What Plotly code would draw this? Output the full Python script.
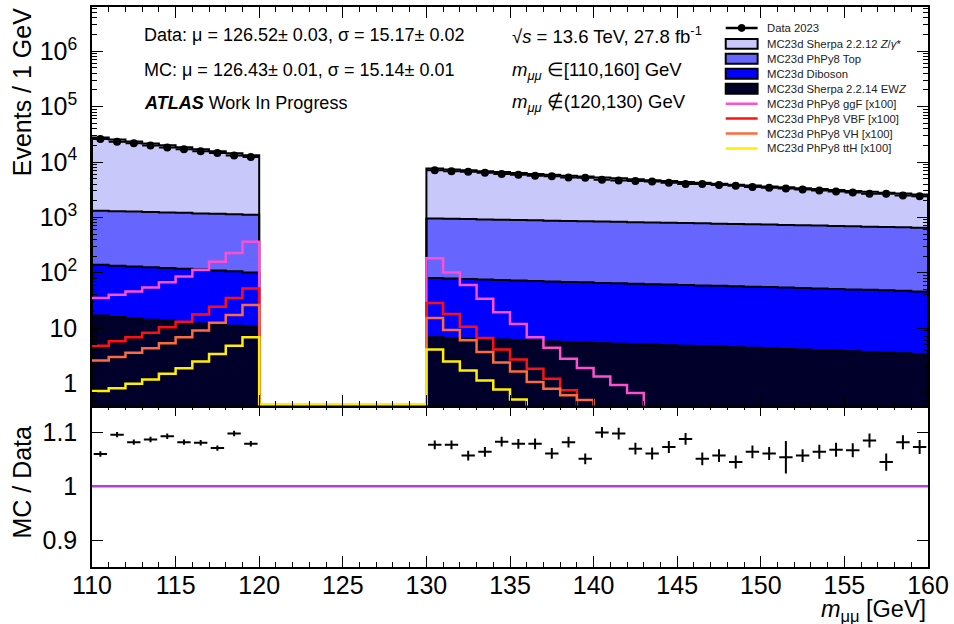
import numpy as np
import plotly.graph_objects as go

# ---------------- data ----------------
bins = list(range(110, 120)) + list(range(130, 160))   # lower bin edges, 1 GeV bins

data = [26080, 23260, 21720, 19930, 18270, 17010, 15700, 14600, 13130, 12320,
        7085, 6825, 6700, 6413, 6064, 5868, 5653, 5539, 5233, 5190,
        4777, 4611, 4559, 4429, 4219, 4008, 3998, 3830, 3732, 3531,
        3412, 3308, 3179, 3042, 2919, 2815, 2667, 2668, 2482, 2412]

ratio = [1.060, 1.096, 1.082, 1.087, 1.093, 1.082, 1.081, 1.071, 1.098, 1.079,
         1.077, 1.077, 1.057, 1.064, 1.083, 1.079, 1.079, 1.061, 1.082, 1.051,
         1.100, 1.098, 1.070, 1.061, 1.073, 1.088, 1.051, 1.057, 1.045, 1.064,
         1.061, 1.054, 1.057, 1.064, 1.068, 1.067, 1.085, 1.045, 1.082, 1.073]

ratio_err = [0.005] * 10 + [0.008, 0.008, 0.009, 0.009, 0.009, 0.009, 0.010, 0.010, 0.010, 0.010,
                            0.010, 0.011, 0.011, 0.011, 0.011, 0.011, 0.012, 0.012, 0.012, 0.012,
                            0.012, 0.030, 0.012, 0.013, 0.013, 0.013, 0.013, 0.016, 0.013, 0.013]

zgamma = [26340, 24200, 22230, 20410, 18740, 17200, 15790, 14480, 13280, 12180,
          6680, 6411, 6152, 5908, 5668, 5437, 5215, 5007, 4802, 4605,
          4415, 4233, 4058, 3889, 3727, 3571, 3422, 3278, 3140, 3007,
          2880, 2757, 2640, 2527, 2418, 2314, 2214, 2118, 2026, 1938]

top = [1171, 1156, 1140, 1124, 1108, 1092, 1066, 1050, 1034, 1009,
       870, 861, 853, 840, 831, 822, 814, 800, 792, 783,
       774, 766, 757, 748, 739, 730, 721, 712, 703, 694,
       685, 676, 667, 658, 649, 640, 631, 622, 613, 604]

diboson = [122.2, 118.1, 115.0, 111.8, 108.5, 105.2, 101.9, 98.5, 95.0, 90.4,
           73.2, 71.9, 70.5, 69.2, 67.8, 66.5, 65.1, 63.8, 62.4, 61.5,
           60.2, 59.3, 57.9, 57.0, 56.1, 55.2, 54.3, 53.4, 52.5, 51.6,
           50.7, 49.8, 48.9, 48.0, 47.1, 46.2, 45.3, 44.4, 43.5, 42.6]

ewz = [16.8, 15.9, 15.0, 14.2, 13.5, 12.8, 12.1, 11.5, 11.0, 10.6,
       6.8, 6.65, 6.5, 6.35, 6.2, 6.05, 5.9, 5.75, 5.6, 5.45,
       5.3, 5.2, 5.1, 5.0, 4.9, 4.8, 4.7, 4.6, 4.5, 4.4,
       4.3, 4.2, 4.1, 4.0, 3.9, 3.8, 3.7, 3.6, 3.5, 3.4]

# signal samples, already scaled x100
ggf = [35, 40, 46, 54, 67, 85, 112, 158, 226, 363,
       183, 101, 60, 34, 19.3, 11.9, 6.8, 4.4, 2.8, 1.91, 1.33, 0.94, 0.67] + [0] * 17
vbf = [4.8, 5.8, 6.8, 8.2, 10.3, 13, 17.5, 24.4, 35, 52,
       28.5, 18, 10.6, 6.6, 4.1, 2.7, 1.84, 1.21, 0.75] + [0] * 21
vh = [2.6, 3.0, 3.6, 4.3, 5.3, 6.8, 9.0, 12.5, 17.3, 26,
      15.2, 9.2, 6.0, 3.7, 2.4, 1.64, 1.06, 0.80, 0.61, 0.50] + [0] * 20
tth = [0.73, 0.82, 0.99, 1.18, 1.49, 1.89, 2.5, 3.4, 4.8, 6.8,
       4.1, 2.5, 1.72, 1.13, 0.78, 0.51] + [0] * 24

y_tick_vals = [1, 10, 100, 1000, 10000, 100000, 1000000]
y_tick_text = ["1", "10", "10<sup>2</sup>", "10<sup>3</sup>", "10<sup>4</sup>", "10<sup>5</sup>", "10<sup>6</sup>"]

# ---------------- styles ----------------
C_Z = "#c8c8fa"
C_TOP = "#6666ff"
C_DIB = "#0000ff"
C_EWZ = "#00002a"
C_GGF = "#ff4fcf"
C_VBF = "#ff1010"
C_VH = "#ff6a3a"
C_TTH = "#ffee00"
C_ONE = "#b040e0"
FONT = "Liberation Sans, Arial, Helvetica, sans-serif"

FLOOR = 1e-3                 # far below the axis -> clipped
GAP = 10 ** -0.375           # just above the bottom edge of the log axis

# ---------------- helpers ----------------
def runs_of(b):
    out, s = [], 0
    for i in range(1, len(b)):
        if b[i] != b[i - 1] + 1:
            out.append((s, i)); s = i
    out.append((s, len(b)))
    return out

RUNS = runs_of(bins)

def step(vals, i0, i1):
    xs = bins[i0:i1] + [bins[i1 - 1] + 1]
    ys = list(vals[i0:i1]) + [vals[i1 - 1]]
    return xs, ys

c1 = np.array(ewz, float)
c2 = c1 + np.array(diboson, float)
c3 = c2 + np.array(top, float)
c4 = c3 + np.array(zgamma, float)
levels = [(c1, C_EWZ), (c2, C_DIB), (c3, C_TOP), (c4, C_Z)]

fig = go.Figure()

# stacked fills
for (i0, i1) in RUNS:
    xs, _ = step(c1, i0, i1)
    fig.add_trace(go.Scatter(x=xs, y=[FLOOR] * len(xs), mode="lines", line=dict(width=0, shape="hv"),
                             xaxis="x2", yaxis="y2", hoverinfo="skip"))
    for arr, col in levels:
        xs, ys = step(arr.tolist(), i0, i1)
        fig.add_trace(go.Scatter(x=xs, y=ys, mode="lines", line=dict(width=0, shape="hv"),
                                 fill="tonexty", fillcolor=col, xaxis="x2", yaxis="y2", hoverinfo="skip"))

# black outlines of the stack
for (i0, i1) in RUNS:
    for arr, col in levels:
        xs, ys = step(arr.tolist(), i0, i1)
        xs = [xs[0]] + xs + [xs[-1]]
        ys = [FLOOR] + ys + [FLOOR]
        fig.add_trace(go.Scatter(x=xs, y=ys, mode="lines", line=dict(color="black", width=2, shape="hv"),
                                 xaxis="x2", yaxis="y2", hoverinfo="skip"))

# signal lines
def signal_path(vals):
    lookup = dict(zip(bins, vals))
    xs, ys = [], []
    for b in range(bins[0], bins[-1] + 1):
        v = lookup.get(b, None)
        if v is None:
            v = GAP
        elif v <= 0:
            v = FLOOR
        xs.append(b); ys.append(v)
    xs.append(bins[-1] + 1); ys.append(ys[-1])
    return xs, ys

for vals, col in [(ggf, C_GGF), (vbf, C_VBF), (vh, C_VH), (tth, C_TTH)]:
    xs, ys = signal_path(vals)
    fig.add_trace(go.Scatter(x=xs, y=ys, mode="lines", line=dict(color=col, width=2.5, shape="hv"),
                             xaxis="x2", yaxis="y2", hoverinfo="skip"))

centers = [b + 0.5 for b in bins]

# data
fig.add_trace(go.Scatter(x=centers, y=data, mode="markers",
                         marker=dict(color="black", size=8),
                         error_x=dict(type="constant", value=0.5, color="black", thickness=2, width=0),
                         xaxis="x2", yaxis="y2"))

# ratio
fig.add_trace(go.Scatter(x=centers, y=ratio, mode="markers",
                         marker=dict(color="black", size=1),
                         error_x=dict(type="constant", value=0.4, color="black", thickness=2, width=0),
                         error_y=dict(type="data", array=ratio_err, color="black", thickness=2, width=0),
                         xaxis="x", yaxis="y"))

# ---------------- layout ----------------
L, R, T, B = 92, 23, 5, 57
W, H = 954, 624
PW, PH = W - L - R, H - T - B
split = 162 / PH

def X(px):
    return (px - L) / PW

def Y(py):
    return (H - B - py) / PH

ax_common = dict(showline=True, linecolor="black", linewidth=1.5, mirror="allticks",
                 ticks="inside", tickcolor="black", tickwidth=1.2, ticklen=11,
                 showgrid=False, zeroline=False, tickfont=dict(size=25, family=FONT, color="black"))

minor_x = dict(ticks="inside", dtick=1, tick0=110, ticklen=5, tickcolor="black", tickwidth=1.2, showgrid=False)

log_minor = [m * 10 ** k for k in range(-1, 7) for m in range(2, 10) if 10 ** -0.4 < m * 10 ** k < 10 ** 6.8]

fig.update_layout(
    width=W, height=H, margin=dict(l=L, r=R, t=T, b=B),
    paper_bgcolor="white", plot_bgcolor="white", showlegend=False,
    font=dict(family=FONT, color="black"),
    xaxis=dict(ax_common, domain=[0, 1], anchor="y", range=[110, 160], tick0=110, dtick=5,
               minor=minor_x, ticklabelstandoff=-5),
    yaxis=dict(ax_common, domain=[0, split], anchor="x", range=[0.85, 1.15],
               tickvals=[0.9, 1.0, 1.1], ticktext=["0.9", "1", "1.1"], ticklabelstandoff=8),
    xaxis2=dict(ax_common, domain=[0, 1], anchor="y2", range=[110, 160], tick0=110, dtick=5,
                minor=minor_x, showticklabels=False, matches="x"),
    yaxis2=dict(ax_common, domain=[split, 1], anchor="x2", type="log", range=[-0.4, 6.8],
                tickvals=y_tick_vals, ticktext=y_tick_text, ticklabelstandoff=8,
                minor=dict(ticks="inside", tickvals=log_minor, ticklen=5, tickcolor="black",
                           tickwidth=1.2, showgrid=False)),
)

# unity line in ratio panel
fig.add_shape(type="line", xref="x", yref="y", x0=110, x1=160, y0=1, y1=1,
              line=dict(color=C_ONE, width=2.5))

ann = []
def text(px, py, s, size, xanchor="left", yanchor="middle", angle=0, color="black"):
    ann.append(dict(x=X(px), y=Y(py), xref="paper", yref="paper", text=s, showarrow=False,
                    xanchor=xanchor, yanchor=yanchor, textangle=angle,
                    font=dict(size=size, family=FONT, color=color)))

text(142, 33, "Data: μ = 126.52± 0.03, σ = 15.17± 0.02", 18)
text(142, 68, "MC: μ = 126.43± 0.01, σ = 15.14± 0.01", 18)
text(142, 101, "<b><i>ATLAS</i></b> Work In Progress", 18)
text(511, 33, "√<i>s</i> = 13.6 TeV, 27.8 fb<sup>-1</sup>", 18.5)
text(511, 69, "<i>m</i><sub><i>μμ</i></sub> ∈[110,160] GeV", 18.5)
text(511, 101, "<i>m</i><sub><i>μμ</i></sub> ∉(120,130) GeV", 18.5)

text(22, 4, "Events / 1 GeV", 25, xanchor="center", yanchor="top", angle=-90)
text(22, 482, "MC / Data", 25, xanchor="center", yanchor="middle", angle=-90)
text(931, 611, "<i>m</i><sub>μμ</sub> [GeV]", 23.5, xanchor="right", yanchor="middle")

# manual legend (ROOT style)
leg_y = [26, 42, 57, 72, 87, 102, 117, 132, 147]
leg_items = [
    ("data", "black", "Data 2023"),
    ("box", C_Z, "MC23d Sherpa 2.2.12 <i>Z</i>/<i>γ</i>*"),
    ("box", C_TOP, "MC23d PhPy8 Top"),
    ("box", C_DIB, "MC23d Diboson"),
    ("box", C_EWZ, "MC23d Sherpa 2.2.14 EW<i>Z</i>"),
    ("line", C_GGF, "MC23d PhPy8 ggF [x100]"),
    ("line", C_VBF, "MC23d PhPy8 VBF [x100]"),
    ("line", C_VH, "MC23d PhPy8 VH [x100]"),
    ("line", C_TTH, "MC23d PhPy8 ttH [x100]"),
]
x0s, x1s = 728, 760
for yy, (kind, col, label) in zip(leg_y, leg_items):
    if kind == "box":
        fig.add_shape(type="rect", xref="paper", yref="paper", x0=X(x0s), x1=X(x1s),
                      y0=Y(yy - 5), y1=Y(yy + 5), fillcolor=col, line=dict(color="black", width=2))
    else:
        fig.add_shape(type="line", xref="paper", yref="paper", x0=X(x0s), x1=X(x1s),
                      y0=Y(yy), y1=Y(yy), line=dict(color=col, width=2.5))
        if kind == "data":
            fig.add_shape(type="circle", xref="paper", yref="paper", x0=X(740.5), x1=X(747.5),
                          y0=Y(yy - 3.5), y1=Y(yy + 3.5), fillcolor="black", line=dict(color="black", width=1))
    text(767, yy, label, 11.3, color="#222222")

fig.update_layout(annotations=ann)
fig.write_html("out.html")
